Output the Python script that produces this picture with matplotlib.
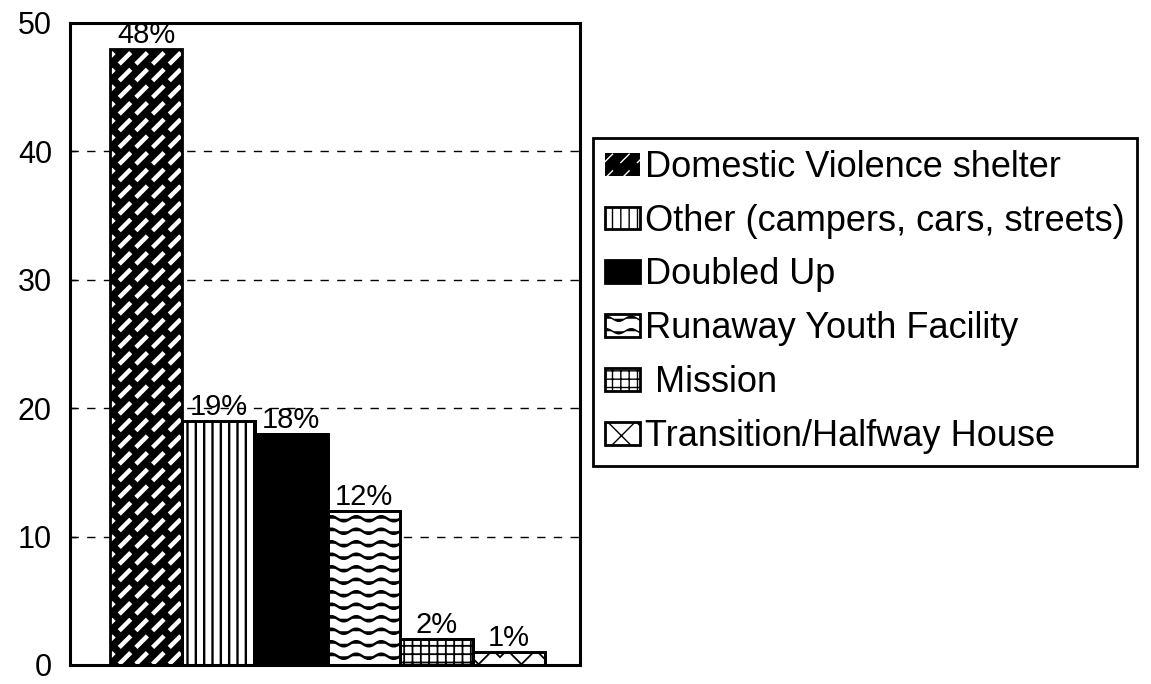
import numpy as np
import matplotlib
matplotlib.use("Agg")
import matplotlib.pyplot as plt
from matplotlib import hatch as mhatch
from matplotlib.path import Path

# ---------------- data ----------------
categories = ["Domestic Violence shelter", "Other (campers, cars, streets)",
              "Doubled Up", "Runaway Youth Facility", " Mission",
              "Transition/Halfway House"]
values = [48, 19, 18, 12, 2, 1]
value_labels = ["48%", "19%", "18%", "12%", "2%", "1%"]
yticks = [0, 10, 20, 30, 40, 50]


# ---------------- custom hatch textures ----------------
class WaveHatch(mhatch.HatchPatternBase):
    """Wavy horizontal lines, triggered by 'o'."""
    npts = 41
    periods = 4

    def __init__(self, hatch, density):
        self.num_lines = int(hatch.count('o') * density * 1.35)
        self.num_vertices = self.num_lines * self.npts

    def set_vertices_and_codes(self, vertices, codes):
        xs = np.linspace(0, 1, self.npts)
        amp = 0.026
        for i in range(self.num_lines):
            y0 = (i + 0.5) / self.num_lines
            sl = slice(i * self.npts, (i + 1) * self.npts)
            vertices[sl, 0] = xs
            vertices[sl, 1] = y0 + amp * np.sin(2 * np.pi * self.periods * xs)
            codes[sl] = Path.LINETO
            codes[i * self.npts] = Path.MOVETO


class DashDiagHatch(mhatch.HatchPatternBase):
    """Dashed north-east diagonals (woven look), triggered by 'O'."""
    def __init__(self, hatch, density):
        self.n = int(hatch.count('O') * density)
        self.num_vertices = self.n * self.n * 2

    def set_vertices_and_codes(self, vertices, codes):
        n = self.n
        k = 0
        dash = 0.5 / n
        off = 0.25 / n
        for i in range(n):
            for j in range(n):
                x0 = j / n + off
                y0 = ((i + j) % n) / n + off
                vertices[k] = (x0, y0)
                vertices[k + 1] = (x0 + dash, y0 + dash)
                codes[k] = Path.MOVETO
                codes[k + 1] = Path.LINETO
                k += 2


class CrossHatch(mhatch.HatchPatternBase):
    """Diagonal cross hatch with custom spacing, triggered by '*'."""
    def __init__(self, hatch, density):
        self.num_lines = int(hatch.count('*') * 7)
        self.num_vertices = (self.num_lines + 1) * 4 if self.num_lines else 0

    def set_vertices_and_codes(self, vertices, codes):
        m = self.num_lines + 1
        steps = np.linspace(-0.5, 0.5, m)
        v1 = vertices[:2 * m]
        v1[0::2, 0] = 0.0 + steps
        v1[0::2, 1] = 0.0 - steps
        v1[1::2, 0] = 1.0 + steps
        v1[1::2, 1] = 1.0 - steps
        v2 = vertices[2 * m:]
        v2[0::2, 0] = 0.0 + steps
        v2[0::2, 1] = 1.0 + steps
        v2[1::2, 0] = 1.0 + steps
        v2[1::2, 1] = 0.0 + steps
        codes[0::2] = Path.MOVETO
        codes[1::2] = Path.LINETO


mhatch._hatch_types[:] = [t for t in mhatch._hatch_types
                          if t.__name__ not in ("SmallCircles", "LargeCircles",
                                                "Stars")]
mhatch._hatch_types.extend([WaveHatch, DashDiagHatch, CrossHatch])

# ---------------- styles ----------------
faces = ["black", "white", "black", "white", "white", "white"]
edge_cols = ["white", "black", "black", "black", "black", "black"]
hatches = ["O", "||", None, "o", "++", "*"]
hatch_lws = [3.2, 1.7, 1.0, 1.8, 1.3, 1.3]

plt.rcParams['font.family'] = ['Liberation Sans', 'DejaVu Sans']

fig = plt.figure(figsize=(11.51, 6.84), dpi=100)
ax = fig.add_axes([70 / 1151, 19 / 684, 510 / 1151, 642 / 684])

x = np.arange(len(categories))
handles = []
for i in range(len(categories)):
    with plt.rc_context({'hatch.linewidth': hatch_lws[i],
                         'hatch.color': edge_cols[i]}):
        b = ax.bar(x[i], values[i], width=1.0, color=faces[i],
                   edgecolor=edge_cols[i], linewidth=0 if i == 0 else 2.0,
                   hatch=hatches[i], label=categories[i], zorder=2)
        for p in b:
            if hasattr(p, 'set_hatch_linewidth'):
                p.set_hatch_linewidth(hatch_lws[i])
    handles.append(b)
    o = ax.bar(x[i], values[i], width=1.0, fill=False, edgecolor='black',
               linewidth=2.0, zorder=3)
    ax.bar_label(o, labels=[value_labels[i]], padding=0, fontsize=21,
                 zorder=4)

ax.set_xlim(-1.05, 5.98)
ax.set_ylim(0, 50)
ax.set_yticks(yticks)
ax.set_yticklabels([str(t) for t in yticks], fontsize=22)
ax.set_xticks([])
ax.tick_params(axis='y', length=4, width=1, direction='in', pad=13)
ax.yaxis.grid(True, color='black', linestyle=(0, (6, 6)), linewidth=1.0,
              zorder=1)
ax.set_axisbelow(True)
for s in ax.spines.values():
    s.set_linewidth(2.2)
    s.set_color('black')

leg = fig.legend(handles=handles, labels=categories, loc='upper left',
                 bbox_to_anchor=(593 / 1151, 1 - 138 / 684),
                 borderaxespad=0, fontsize=26, frameon=True, fancybox=False,
                 edgecolor='black', framealpha=1.0, handlelength=0.97,
                 handleheight=0.6, handletextpad=0.14, labelspacing=0.52,
                 borderpad=0.33)
leg.get_frame().set_linewidth(2.0)

fig.savefig("out.png", dpi=100, facecolor='white')
